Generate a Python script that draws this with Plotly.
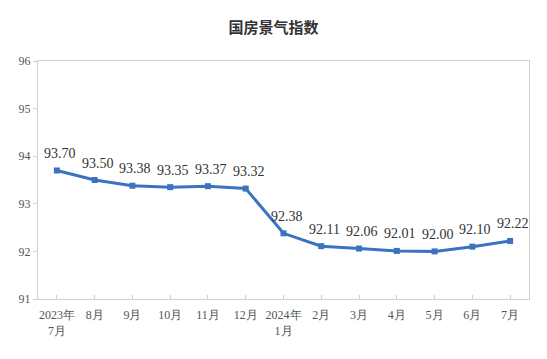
import plotly.graph_objects as go

categories = ["2023年<br>7月", "8月", "9月", "10月", "11月", "12月", "2024年<br>1月",
              "2月", "3月", "4月", "5月", "6月", "7月"]
values = [93.70, 93.50, 93.38, 93.35, 93.37, 93.32, 92.38,
          92.11, 92.06, 92.01, 92.00, 92.10, 92.22]
labels = [f"{v:.2f}" for v in values]
y_ticks = [91, 92, 93, 94, 95, 96]

xs = list(range(len(categories)))

fig = go.Figure()
fig.add_trace(go.Scatter(
    x=xs, y=values, mode="lines+markers",
    line=dict(color="#3a73c0", width=3),
    marker=dict(symbol="square", size=6, color="#3a73c0"),
    cliponaxis=False, showlegend=False, hoverinfo="skip",
))

for x, v, t in zip(xs, values, labels):
    fig.add_annotation(x=x, y=v, text=t, showarrow=False, yshift=17, xshift=3,
                       font=dict(family="Liberation Serif", size=14, color="#333333"))

fig.update_layout(
    width=547, height=359,
    margin=dict(l=38, r=18, t=61, b=60),
    paper_bgcolor="white", plot_bgcolor="white",
    title=dict(text="<b>国房景气指数</b>", x=0.5, xref="container", xanchor="center",
               y=1 - 28/359, yanchor="middle",
               font=dict(family="Noto Sans CJK SC", size=15, color="#333333")),
    xaxis=dict(
        tickmode="array", tickvals=xs, ticktext=categories,
        range=[-0.5, len(categories) - 0.5], automargin=False,
        showline=True, linecolor="#cfcfcf", linewidth=1, mirror=True,
        ticks="inside", ticklen=4, tickcolor="#cfcfcf", tickson="boundaries",
        ticklabelstandoff=5,
        showgrid=False, zeroline=False,
        tickfont=dict(family="Liberation Serif", size=12, color="#555555"),
    ),
    yaxis=dict(
        range=[91, 96], tickvals=y_ticks, automargin=False,
        showline=True, linecolor="#cfcfcf", linewidth=1, mirror=True,
        ticks="outside", ticklen=4, tickcolor="#cfcfcf",
        showgrid=False, zeroline=False,
        tickfont=dict(family="Liberation Serif", size=12, color="#555555"),
    ),
)

fig.write_html("out.html", config={"displayModeBar": False},
               post_script="document.body.style.margin='0';document.body.style.overflow='hidden';")
